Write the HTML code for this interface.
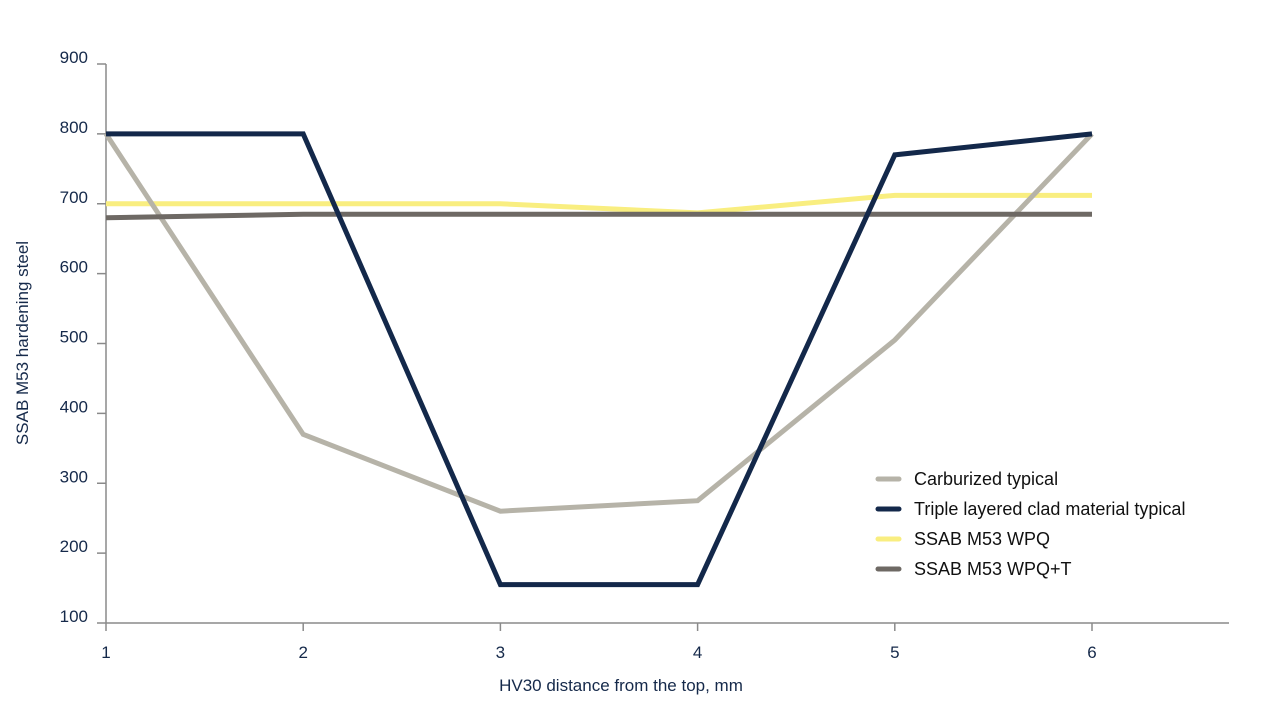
<!DOCTYPE html>
<html><head><meta charset="utf-8"><style>
html,body{margin:0;padding:0;background:#fff;}
svg{display:block;font-family:"Liberation Sans",Arial,sans-serif;}
</style></head><body>
<svg id="chart" width="1280" height="720" viewBox="0 0 1280 720">
<g id="axes"></g>
<g id="series"></g>
<g id="legend"></g>
<text transform="translate(28,343) rotate(-90)" text-anchor="middle" font-size="17" fill="#15294a">SSAB M53 hardening steel</text>
<text x="621" y="691" text-anchor="middle" font-size="17" fill="#15294a">HV30 distance from the top, mm</text>
</svg>
<script>
const categories = [1, 2, 3, 4, 5, 6];
const yTicks = [100, 200, 300, 400, 500, 600, 700, 800, 900];
const seriesNames = ["Carburized typical", "Triple layered clad material typical", "SSAB M53 WPQ", "SSAB M53 WPQ+T"];
const carburized = [800, 370, 260, 275, 505, 800];
const tripleLayered = [800, 800, 155, 155, 770, 800];
const wpq = [700, 700, 700, 687, 712, 712];
const wpqT = [680, 685, 685, 685, 685, 685];
const colors = ["#b6b3a8", "#13284a", "#f9ee80", "#6e6964"];
const NS = "http://www.w3.org/2000/svg";
const X = v => 106 + (v - 1) * 197.2;
const Y = v => 623 - (v - 100) * (559 / 800);
function mk(tag, attrs, parent){ const e=document.createElementNS(NS,tag); for(const k in attrs) e.setAttribute(k,attrs[k]); parent.appendChild(e); return e; }
const axes = document.getElementById('axes');
let a = mk('line',{x1:106,y1:Y(900),x2:106,y2:623,stroke:'#8a8a8a','stroke-width':1.5},axes);


a = mk('line',{x1:106,y1:623,x2:1229,y2:623,stroke:'#8a8a8a','stroke-width':1.5},axes);


yTicks.forEach(t=>{
  const tk = mk('line',{x1:97,y1:Y(t),x2:106,y2:Y(t),stroke:'#8a8a8a','stroke-width':1.5},axes);
  
  
  const lb = mk('text',{x:88,y:Y(t)-1,'text-anchor':'end','font-size':17,fill:'#15294a'},axes);
  lb.textContent = t;
  
  
});
categories.forEach(c=>{
  const tk = mk('line',{x1:X(c),y1:623,x2:X(c),y2:631,stroke:'#8a8a8a','stroke-width':1.5},axes);
  
  
  const lb = mk('text',{x:X(c),y:658,'text-anchor':'middle','font-size':17,fill:'#15294a'},axes);
  lb.textContent = c;
  
  
});
const sg = document.getElementById('series');
const data = [carburized, tripleLayered, wpq, wpqT];
const sNames = ['line-carburized','line-triple-layered','line-wpq','line-wpq-t'];
[2,0,3,1].forEach(i=>{
  const pts = data[i].map((v,j)=>X(categories[j])+','+Y(v)).join(' ');
  const p = mk('polyline',{points:pts,fill:'none',stroke:colors[i],'stroke-width':5,'stroke-linejoin':'miter'},sg);
  
  
});
const lg = document.getElementById('legend');
seriesNames.forEach((n,i)=>{
  const yy = 479 + i*30;
  const g = mk('g',{},lg);
  
  
  mk('line',{x1:878,y1:yy,x2:899,y2:yy,stroke:colors[i],'stroke-width':5,'stroke-linecap':'round'},g);
  const t = mk('text',{x:914,y:yy+6,'font-size':18,fill:'#111'},g);
  t.textContent = n;
});
</script>
</body></html>
